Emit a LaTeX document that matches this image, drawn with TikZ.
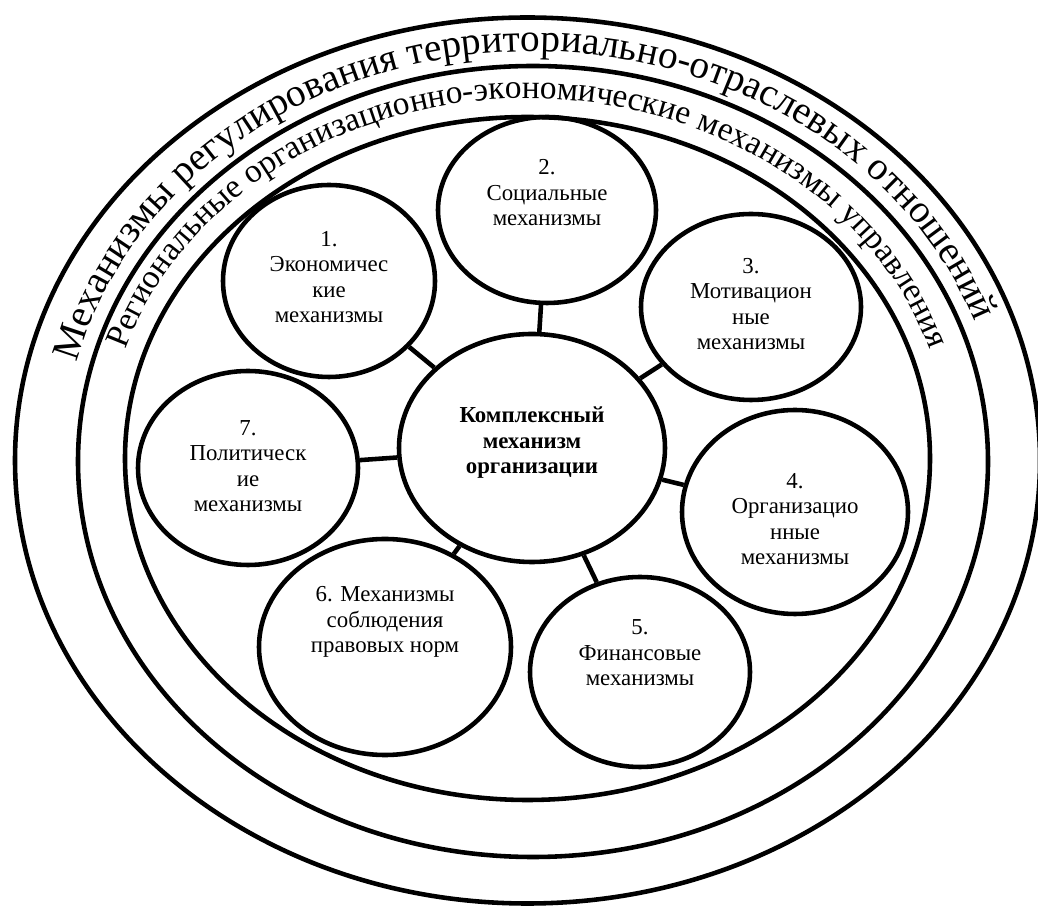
\documentclass[tikz,border=0pt]{standalone}
\usepackage{fontspec}
\setmainfont{Liberation Serif}
\usepackage{tikz}
\usetikzlibrary{shapes.geometric}
\usetikzlibrary{decorations.text}
\def\lw{2.6pt}
\def\unit{0.02cm}
\tikzset{ring/.style={draw,line width=\lw},
	link/.style={draw,line width=\lw},
	mechtext/.style={align=center,font=\fontsize{13}{14.5}\selectfont}}
\newcommand{\mechnode}[7]{\node[draw,ellipse,line width=\lw,minimum width=2*#3*\unit,minimum height=2*#4*\unit,inner sep=0pt] (#5) at (#1,#2) {};
	\node[mechtext] (#5text) at ([yshift=#7*\unit]#5) {#6}; }

\begin{document}
\begin{tikzpicture}[x=\unit,y=\unit]
\useasboundingbox (0,0) rectangle (1038,906);
% outer rings
\draw[ring] (527.5,445.5) ellipse [x radius=512.5, y radius=443];
\draw[ring] (533,444.5) ellipse [x radius=455, y radius=395.5];
\draw[ring] (527.5,447.5) ellipse [x radius=402.5, y radius=341.5];
\path[decorate,decoration={text along path,text align=center,
	text={|\fontsize{22.4}{22.4}\selectfont|Механизмы регулирования территориально-отраслевых отношений}}]
	(533,444.5) ++(203:470 and 410) arc [start angle=203, end angle=-17, x radius=470, y radius=410];
\path[decorate,decoration={text along path,text align=center,
	text={|\fontsize{19}{19}\selectfont|Региональные организационно-экономические механизмы управления}}]
	(527.5,447.5) ++(200:422 and 360) arc [start angle=200, end angle=-20, x radius=422, y radius=360];

\mechnode{532}{458}{133}{114}{c}{\textbf{Комплексный}\\ \textbf{механизм}\\ \textbf{организации}}{5}
\mechnode{329}{625}{106}{96}{e1}{1.\\ Экономичес\\ кие\\ механизмы}{4}
\mechnode{547}{696}{109}{93}{e2}{2.\\ Социальные\\ механизмы}{17}
\mechnode{751}{599}{110}{93}{e3}{3.\\ Мотивацион\\ ные\\ механизмы}{3}
\mechnode{795}{394}{113}{102}{e4}{4.\\ Организацио\\ нные\\ механизмы}{-7}
\mechnode{640}{234}{110}{95}{e5}{5.\\ Финансовые\\ механизмы}{19}
\mechnode{385}{259}{126}{108}{e6}{6. Механизмы\\ соблюдения\\ правовых норм}{25}
\mechnode{248}{438}{110}{97}{e7}{7.\\ Политическ\\ ие\\ механизмы}{2}

\draw[link] (c) -- (e1);
\draw[link] (c) -- (e2);
\draw[link] (c) -- (e3);
\draw[link] (c) -- (e4);
\draw[link] (c) -- (e5);
\draw[link] (c) -- (e6);
\draw[link] (c) -- (e7);
\end{tikzpicture}
\end{document}
